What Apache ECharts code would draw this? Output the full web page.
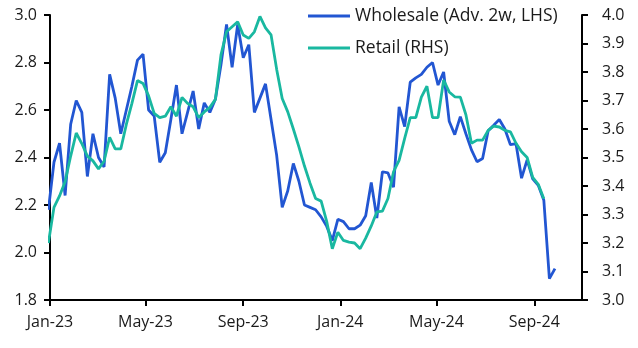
<!DOCTYPE html>
<html>
<head>
<meta charset="utf-8">
<script src="https://cdn.jsdelivr.net/npm/echarts@6/dist/echarts.min.js"></script>
<style>
  html, body { margin: 0; padding: 0; background: #fff; }
  #chart { width: 638px; height: 348px; }
</style>
</head>
<body>
<div id="chart"></div>
<script>
// Weekly observations, first one dated Friday 30 Dec 2022
const firstWeek = [2022, 11, 30];

// Wholesale price, advanced two weeks (left axis)
const wholesale = [
  2.18, 2.38, 2.46, 2.24, 2.54, 2.64, 2.59, 2.32, 2.50, 2.40,
  2.36, 2.75, 2.65, 2.50, 2.60, 2.70, 2.81, 2.835, 2.60, 2.575,
  2.38, 2.42, 2.56, 2.705, 2.50, 2.59, 2.68, 2.52, 2.63, 2.59,
  2.645, 2.79, 2.96, 2.78, 2.96, 2.82, 2.875, 2.59, 2.65, 2.71,
  2.56, 2.41, 2.19, 2.26, 2.375, 2.30, 2.20, 2.19, 2.18, 2.15,
  2.11, 2.05, 2.14, 2.13, 2.10, 2.10, 2.115, 2.155, 2.295, 2.145,
  2.34, 2.335, 2.275, 2.613, 2.53, 2.717, 2.735, 2.75, 2.78, 2.80,
  2.705, 2.76, 2.553, 2.496, 2.572, 2.50, 2.432, 2.382, 2.396, 2.513,
  2.536, 2.56, 2.52, 2.454, 2.458, 2.313, 2.39, 2.31, 2.283, 2.22,
  1.89, 1.932
];

// Retail price (right axis)
const retail = [
  3.20, 3.325, 3.365, 3.415, 3.505, 3.586, 3.549, 3.505, 3.488, 3.46,
  3.487, 3.571, 3.53, 3.53, 3.616, 3.69, 3.77, 3.76, 3.716, 3.655,
  3.64, 3.645, 3.678, 3.645, 3.711, 3.69, 3.678, 3.64, 3.66, 3.676,
  3.704, 3.86, 3.941, 3.959, 3.976, 3.93, 3.918, 3.941, 3.995, 3.955,
  3.93, 3.81, 3.707, 3.66, 3.60, 3.537, 3.47, 3.41, 3.356, 3.347,
  3.275, 3.18, 3.238, 3.209, 3.203, 3.20, 3.18, 3.217, 3.26, 3.309,
  3.312, 3.356, 3.45, 3.49, 3.567, 3.64, 3.64, 3.712, 3.75, 3.64,
  3.64, 3.772, 3.73, 3.713, 3.712, 3.65, 3.55, 3.561, 3.561, 3.595,
  3.61, 3.607, 3.595, 3.59, 3.55, 3.52, 3.50, 3.43, 3.406, 3.355
];

// Month starts that carry a tick and a label
const tickMonths = [[2023, 0], [2023, 4], [2023, 8], [2024, 0], [2024, 4], [2024, 8]];
const monthNames = ['Jan','Feb','Mar','Apr','May','Jun','Jul','Aug','Sep','Oct','Nov','Dec'];

const seriesNames = ['Wholesale (Adv. 2w, LHS)', 'Retail (RHS)'];
const colors = ['#2256D2', '#19B8A0'];

function weekDate(i) {
  return new Date(firstWeek[0], firstWeek[1], firstWeek[2] + 7 * i).getTime();
}
const toPairs = arr => arr.map((v, i) => [weekDate(i), v]);
const tickValues = tickMonths.map(([y, m]) => new Date(y, m, 1).getTime());

const FONT = 'Open Sans';
const TICK_SIZE = 16;
const LEGEND_SIZE = 17.5;
const TEXT = '#1a1a1a';

const valueAxisBase = {
  type: 'value',
  axisLine: { show: true, lineStyle: { color: '#000', width: 2 } },
  axisTick: { show: true, length: 6, lineStyle: { color: '#000', width: 2 } },
  splitLine: { show: false },
  axisLabel: { fontFamily: FONT, fontSize: TICK_SIZE, color: TEXT, formatter: v => v.toFixed(1) }
};

const chart = echarts.init(document.getElementById('chart'), null, { renderer: 'canvas' });
chart.setOption({
  animation: false,
  backgroundColor: '#fff',
  grid: { left: 50, right: 56, top: 15, bottom: 48 },
  legend: {
    data: seriesNames,
    orient: 'vertical',
    left: 308,
    top: 6,
    padding: 0,
    icon: 'rect',
    itemWidth: 42,
    itemHeight: 3,
    itemGap: 12,
    textStyle: { fontFamily: FONT, fontSize: LEGEND_SIZE, lineHeight: 20, color: TEXT }
  },
  // Dates are plotted as millisecond timestamps on a linear axis
  xAxis: {
    type: 'value',
    min: new Date(2023, 0, 1).getTime(),
    max: new Date(2024, 9, 31).getTime(),
    axisLine: { show: true, lineStyle: { color: '#000', width: 2 } },
    axisTick: { show: true, length: 6, lineStyle: { color: '#000', width: 2 }, customValues: tickValues },
    splitLine: { show: false },
    axisLabel: {
      customValues: tickValues,
      fontFamily: FONT, fontSize: TICK_SIZE, color: TEXT, margin: 14,
      formatter: v => {
        const d = new Date(v);
        return monthNames[d.getMonth()] + '-' + String(d.getFullYear()).slice(2);
      }
    }
  },
  yAxis: [
    Object.assign({}, valueAxisBase, {
      position: 'left', min: 1.8, max: 3.0, interval: 0.2,
      axisLabel: Object.assign({}, valueAxisBase.axisLabel, { margin: 13 })
    }),
    Object.assign({}, valueAxisBase, {
      position: 'right', min: 3.0, max: 4.0, interval: 0.1,
      axisLabel: Object.assign({}, valueAxisBase.axisLabel, { margin: 20 })
    })
  ],
  series: [
    {
      name: seriesNames[0], type: 'line', yAxisIndex: 0, symbol: 'none', clip: true,
      data: toPairs(wholesale),
      lineStyle: { color: colors[0], width: 2.8 }, itemStyle: { color: colors[0] }
    },
    {
      name: seriesNames[1], type: 'line', yAxisIndex: 1, symbol: 'none', clip: true,
      data: toPairs(retail),
      lineStyle: { color: colors[1], width: 2.8 }, itemStyle: { color: colors[1] }
    }
  ]
});
</script>
</body>
</html>
